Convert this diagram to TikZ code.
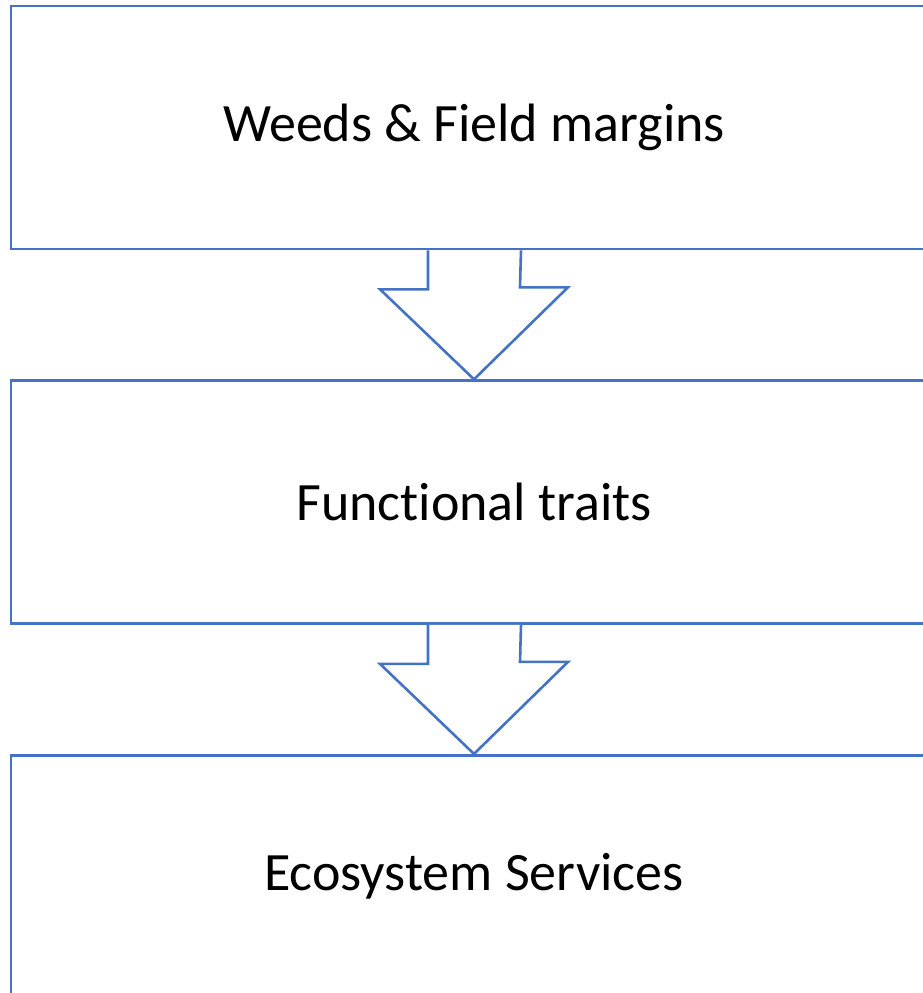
\documentclass[tikz,border=0pt]{standalone}
\usepackage{fontspec}
\setmainfont{Carlito}[Ligatures=NoCommon]
\usepackage{tikz}
\usetikzlibrary{positioning}
\definecolor{officeblue}{HTML}{4472C4}

\begin{document}
\begin{tikzpicture}[x=1pt, y=-1pt, node distance={129pt}, main/.style={rectangle, draw=officeblue, fill=white, line width=2.6pt, minimum width=926pt, minimum height=243pt, font=\fontsize{54}{60}\selectfont}, ar/.style={draw=officeblue, fill=white, line width=2.6pt, line join=miter}]
      \useasboundingbox (0,0) rectangle (923,993);
      \clip (0,0) rectangle (923,993);
      \node[main] (1) at (474,127.5) {Weeds \& Field margins};
      \node[main] (2) [below=of 1] {Functional traits};
      \node[main] (3) [below=of 2] {Ecosystem Services};

      \draw[ar] ([xshift=-46pt]1.south) -- ++(0,39) -- ++(-48,0) -- (2.north) -- ++(94,-92) -- ++(-48,0) -- ([xshift=47pt]1.south);
      \draw[ar] ([xshift=-46pt]2.south) -- ++(0,39) -- ++(-48,0) -- (3.north) -- ++(94,-92) -- ++(-48,0) -- ([xshift=47pt]2.south);
    \end{tikzpicture}
\end{document}
